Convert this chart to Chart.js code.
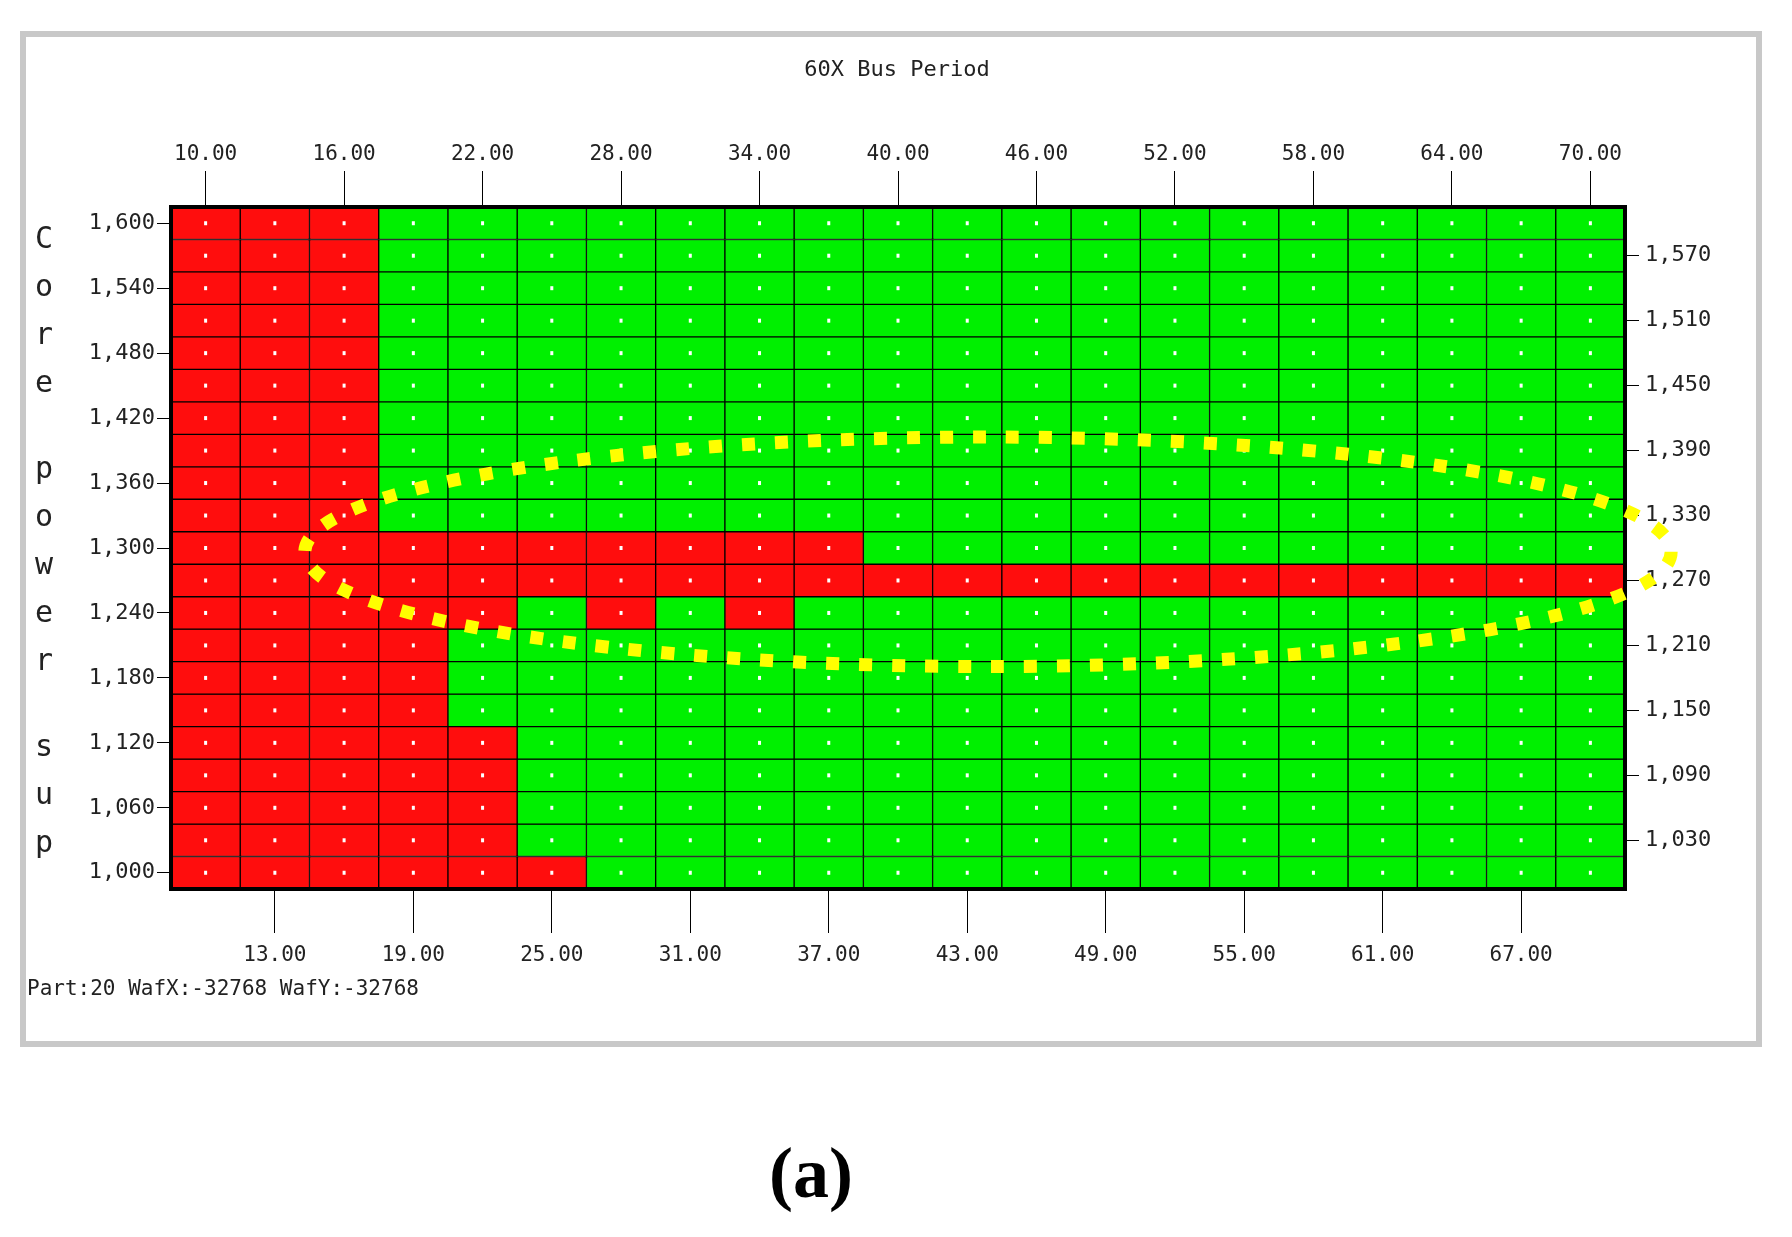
<!DOCTYPE html>
<html><head><meta charset="utf-8">
<script src="https://cdn.jsdelivr.net/npm/chart.js@4/dist/chart.umd.min.js"></script>
<style>html,body{margin:0;padding:0;background:#fff}#c{display:block}</style>
</head><body>
<canvas id="c" width="1792" height="1237"></canvas>
<script>
const busPeriods = [10,13,16,19,22,25,28,31,34,37,40,43,46,49,52,55,58,61,64,67,70];
const voltages = [1.600,1.570,1.540,1.510,1.480,1.450,1.420,1.390,1.360,1.330,1.300,1.270,1.240,1.210,1.180,1.150,1.120,1.090,1.060,1.030,1.000];
const leftTicks = [1.600,1.540,1.480,1.420,1.360,1.300,1.240,1.180,1.120,1.060,1.000];
const rightTicks = [1.570,1.510,1.450,1.390,1.330,1.270,1.210,1.150,1.090,1.030];
// 1 = fail (red), 0 = pass (green); rows top (1.600) to bottom (1.000), columns 10..70
const failMap = [
"111000000000000000000",
"111000000000000000000",
"111000000000000000000",
"111000000000000000000",
"111000000000000000000",
"111000000000000000000",
"111000000000000000000",
"111000000000000000000",
"111000000000000000000",
"111000000000000000000",
"111111111100000000000",
"111111111111111111111",
"111110101000000000000",
"111100000000000000000",
"111100000000000000000",
"111100000000000000000",
"111110000000000000000",
"111110000000000000000",
"111110000000000000000",
"111110000000000000000",
"111111000000000000000"
];
const ellipse = {cx:43.9, cy:1.2965, rx:29.6, ry:0.106};
const labels = busPeriods.map(v=>v.toFixed(2));
const fmt = v => v.toFixed(3).replace('.',',');
const FONT = "DejaVu Sans Mono";

const datasets = voltages.map((v,r)=>({
  data: busPeriods.map(()=>[v-0.015, v+0.015]),
  backgroundColor: busPeriods.map((_,c)=>failMap[r][c]==='1' ? '#ff0d0d' : '#00f000'),
  borderColor:'#000', borderWidth:1, borderSkipped:false,
  barPercentage:1, categoryPercentage:1, grouped:false
}));

const deco = {
  id:'deco',
  beforeDraw(ch){
    const g=ch.ctx; g.save();
    g.fillStyle='#fff'; g.fillRect(0,0,1792,1237);
    g.strokeStyle='#c8c8c8'; g.lineWidth=6; g.strokeRect(23,34,1736,1010);
    g.restore();
  },
  afterDatasetsDraw(ch){
    const g=ch.ctx; g.save();
    const a=ch.chartArea;
    g.strokeStyle='#000'; g.lineWidth=4; g.strokeRect(a.left,a.top,a.right-a.left,a.bottom-a.top);
    g.fillStyle='#fff';
    ch.data.datasets.forEach((d,i)=>{
      ch.getDatasetMeta(i).data.forEach(el=>{ g.fillRect(el.x-1.5,(el.y+el.base)/2-2,3,4); });
    });
    const xs=ch.scales.x, ys=ch.scales.y;
    const unit=(xs.getPixelForValue(1)-xs.getPixelForValue(0))/3;
    const cx=xs.getPixelForValue(busPeriods.indexOf(43)) + (ellipse.cx-43)*unit;
    const cy=ys.getPixelForValue(ellipse.cy);
    const rx=ellipse.rx*unit, ry=Math.abs(ys.getPixelForValue(ellipse.cy+ellipse.ry)-cy);
    g.strokeStyle='#ffff00'; g.lineWidth=13; g.setLineDash([13,20]);
    g.beginPath(); g.ellipse(cx,cy,rx,ry,0,0,Math.PI*2); g.stroke();
    g.setLineDash([]);
    g.fillStyle='#222'; g.textAlign='center'; g.textBaseline='middle';
    g.font='22px "'+FONT+'"';
    g.fillText('60X Bus Period', 897, 70);
    const yt='Core power sup'; g.font='30px "'+FONT+'"';
    let yy=240; for(const ch2 of yt){ if(ch2!==' ') {g.fillText(ch2,44,yy); yy+=48;} else yy+=38; }
    g.textAlign='left'; g.font='21px "'+FONT+'"';
    g.fillText('Part:20 WafX:-32768 WafY:-32768', 27, 990);
    g.font='bold 72px "Liberation Serif"'; g.textAlign='center'; g.fillStyle='#000';
    g.fillText('(a)', 811, 1178);
    g.restore();
  }
};

const tickFont={family:FONT,size:21};
const yFont={family:FONT,size:22};
new Chart(document.getElementById('c'),{
  type:'bar',
  data:{labels, datasets},
  options:{
    responsive:false, animation:false, events:[],
    layout:{padding:0},
    plugins:{legend:{display:false},tooltip:{enabled:false}},
    scales:{
      x:{position:'bottom', offset:true, grid:{drawOnChartArea:false, color:c=>c.index%2===1?'#000':'rgba(0,0,0,0)', tickLength:44, offset:false},
        border:{display:false},
        ticks:{autoSkip:false, maxRotation:0, color:'#222', font:tickFont, padding:10, callback:(v,i)=>i%2===1?labels[i]:''},
        afterFit:s=>{s.height=348;}},
      x2:{position:'top', type:'category', offset:true, grid:{drawOnChartArea:false, color:c=>c.index%2===0?'#000':'rgba(0,0,0,0)', tickLength:36, offset:false},
        border:{display:false},
        ticks:{autoSkip:false, maxRotation:0, color:'#222', font:tickFont, padding:4, callback:(v,i)=>i%2===0?labels[i]:''},
        afterFit:s=>{s.height=207;}},
      y:{position:'left', min:0.985, max:1.615, grid:{drawOnChartArea:false, color:'#000', tickLength:14}, border:{display:false},
        afterBuildTicks:s=>{s.ticks=leftTicks.map(v=>({value:v}));},
        ticks:{color:'#222', font:yFont, padding:2, callback:v=>fmt(v)},
        afterFit:s=>{s.width=171;}},
      y2:{position:'right', min:0.985, max:1.615, grid:{drawOnChartArea:false, color:'#000', tickLength:14}, border:{display:false},
        afterBuildTicks:s=>{s.ticks=rightTicks.map(v=>({value:v}));},
        ticks:{color:'#222', font:yFont, padding:6, callback:v=>fmt(v)},
        afterFit:s=>{s.width=167;}}
    }
  },
  plugins:[deco]
});
</script>
</body></html>
